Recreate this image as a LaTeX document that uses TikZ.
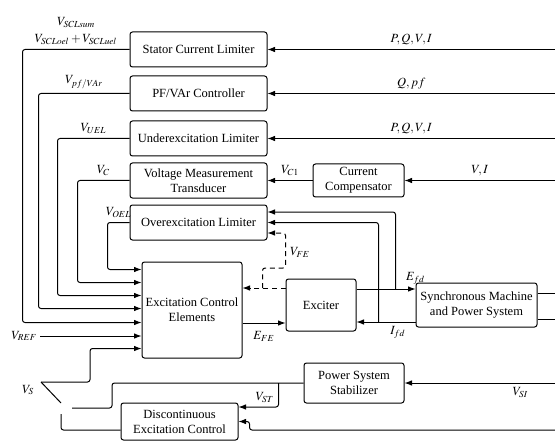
\documentclass[tikz,border=0pt]{standalone}
\usepackage{amsmath}
\usepackage{mathptmx}
\usepackage{fontspec}
\setmainfont{Liberation Serif}
\usetikzlibrary{arrows.meta,calc}

\tikzset{
	blk/.style={draw, rounded corners=2pt, align=center, inner sep=1pt},
	sig/.style={-{Latex[length=6pt,width=4.5pt]}, rounded corners=2pt},
	wire/.style={rounded corners=2pt},
}

\begin{document}
\begin{tikzpicture}[x=0.8pt, y=-0.8pt, line width=0.8pt]
		\useasboundingbox (0,0) rectangle (555,441);
		\node[blk, minimum width=109.6pt, minimum height=28pt] (scl) at (198.5,49.5) {Stator Current Limiter};
		\node[blk, minimum width=109.6pt, minimum height=28pt] (pfc) at (198.5,93.5) {PF/VAr Controller};
		\node[blk, minimum width=109.6pt, minimum height=28pt] (uel) at (198.5,138.5) {Underexcitation Limiter};
		\node[blk, minimum width=109.6pt, minimum height=28pt] (vmt) at (198.5,180.5) {Voltage Measurement\\Transducer};
		\node[blk, minimum width=109.6pt, minimum height=28pt] (oel) at (198.5,222.5) {Overexcitation Limiter};
		\node[blk, minimum width=80pt, minimum height=76.8pt] (ece) at (192,310) {Excitation Control\\Elements};
		\node[blk, minimum width=72.8pt, minimum height=26.4pt] (cc) at (358.5,180.5) {Current\\Compensator};
		\node[blk, minimum width=56pt, minimum height=41.6pt] (exc) at (321,305) {Exciter};
		\node[blk, minimum width=96.8pt, minimum height=35.2pt] (sm) at (476.5,305) {Synchronous Machine\\and Power System};
		\node[blk, minimum width=80pt, minimum height=32pt] (pss) at (354,383) {Power System\\Stabilizer};
		\node[blk, minimum width=93.6pt, minimum height=29.6pt] (dec) at (179.5,421.5) {Discontinuous\\Excitation Control};
%
		\coordinate (r1) at (555,49.5);
		\coordinate (r2) at (555,93.5);
		\coordinate (r3) at (555,138.5);
		\coordinate (r4) at (555,180.5);
		\coordinate (r5) at (555,383);
		\coordinate (r6) at (555,430);
		\coordinate (sw) at (41,382);
		\coordinate (c1) at (72,408);
		\coordinate (c2) at (61,414);
		\coordinate (fe) at ($(exc.west) + (0,-17)$);
%
		\draw[sig] (r1) -- (scl.east) node[midway, above] {$P,Q,V,I$};
		\draw[sig] (r2) -- (pfc.east) node[midway, above] {$Q,pf$};
		\draw[sig] (r3) -- (uel.east) node[midway, above] {$P,Q,V,I$};
		\draw[sig] (r4) -- (cc.east) node[midway, above] {$V,I$};
		\draw[sig] (cc.west) -- (vmt.east) node[midway, above] {$V_{C1}$};
%
		\draw[sig] (scl.west) -- ++(-107,0) node[midway, above, align=center] {$V_{SCLsum}$\\[2pt]$V_{SCLoel}+V_{SCLuel}$} |- ($(ece.north west) + (0,61)$);
		\draw[sig] (pfc.west) -- ++(-91,0) node[midway, above] {$V_{pf/VAr}$} |- ($(ece.north west) + (0,47)$);
		\draw[sig] (uel.west) -- ++(-72,0) node[midway, above] {$V_{UEL}$} |- ($(ece.north west) + (0,34)$);
		\draw[sig] (vmt.west) -- ++(-52,0) node[midway, above] {$V_{C}$} |- ($(ece.north west) + (0,21)$);
		\draw[sig] (oel.west) -- ++(-22,0) node[midway, above] {$V_{OEL}$} |- ($(ece.north west) + (0,8)$);
		\node[anchor=east, inner sep=2pt] (vref) at (40,336) {$V_{REF}$};
		\draw[sig] (vref.east) -- (vref.east -| ece.west);
%
		\draw[sig] ($(ece.east) + (0,13)$) -- ($(exc.west) + (0,18)$) node[midway, below=3pt] {$E_{FE}$};
		\draw[sig, dash pattern=on 4pt off 3pt] (fe) -- (fe -| ece.east);
		\draw[sig, dash pattern=on 4pt off 3pt] ($(fe) + (-23,0)$) |- ++(23,-20) |- ($(oel.east) + (0,10.5)$) node[pos=0.22, right] {$V_{FE}$};
		\draw[sig] ($(exc.east) + (0,-16)$) -- ($(sm.west) + (0,-16)$) node[pos=1, above] {$E_{fd}$};
		\draw[sig] ($(exc.east) + (39,-16)$) |- ($(oel.east) + (0,-10.5)$);
		\draw[sig] ($(sm.west) + (0,17)$) -- ($(exc.east) + (0,17)$) node[pos=0.3, below] {$I_{fd}$};
		\draw[sig] ($(exc.east) + (22,17)$) |- (oel.east);
		\draw ($(sm.east) + (0,-12)$) -- ++(18,0);
		\draw ($(sm.east) + (0,14)$) -- ++(18,0);
%
		\node (vs) at (28,390) {$V_{S}$};
		\draw (sw) -- ++(20,21);
		\draw[sig] (sw) -- ++(49,0) |- ($(ece.north west) + (0,87)$);
		\draw[sig] (r5) -- (pss.east) node[pos=0.23, below] {$V_{SI}$};
		\draw[wire] (pss.west) -| ($(c1) + (40,0)$) -- (c1);
		\draw[sig] ($(pss.west) + (-25,0)$) |- ($(dec.east) + (0,-14.5)$) node[pos=0.5, above left] {$V_{ST}$};
		\draw[wire] ($(dec.west) + (0,8.5)$) -| (c2);
		\draw[sig] (r6) -| ($(dec.east) + (11,0)$) -- (dec.east);
	\end{tikzpicture}
\end{document}
